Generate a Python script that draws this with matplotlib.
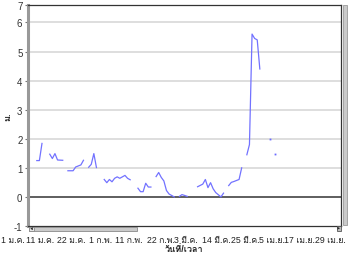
import numpy as np
import matplotlib
matplotlib.use('Agg')
import matplotlib.pyplot as plt
from matplotlib.patches import Rectangle, Polygon
from matplotlib.transforms import ScaledTranslation

plt.rcParams['font.family'] = ['Liberation Sans', 'Loma']

nan = np.nan

# day counted from 1 Jan, nan level = no reading (breaks the line)
day = [3, 4, 5, 6,
       8, 9, 10, 11, 13, 14,
       15, 17, 18, 20, 21, 22,
       23, 24, 25, 26, 27,
       29, 30, 31, 32, 33, 34, 35, 37, 38, 39, 40,
       42, 43, 44, 45, 46, 47, 48,
       49, 50, 51, 52, 53, 54, 55, 56, 57,
       58, 59, 60, 61, 63,
       65, 67, 68, 69, 70, 71, 72, 74, 75, 76,
       77, 78, 79, 81, 82, 83,
       84, 85, 86, 87, 88, 89, 91,
       93, 94,
       95]
level = [1.25, 1.25, 1.84, nan,
         1.47, 1.32, 1.49, 1.27, 1.26, nan,
         0.90, 0.90, 1.03, 1.10, 1.26, nan,
         1.02, 1.12, 1.49, 1.01, nan,
         0.60, 0.49, 0.60, 0.52, 0.64, 0.69, 0.64, 0.74, 0.64, 0.59, nan,
         0.30, 0.18, 0.18, 0.47, 0.34, 0.34, nan,
         0.70, 0.84, 0.67, 0.55, 0.22, 0.10, 0.05, 0.00, nan,
         0.02, 0.08, 0.05, 0.02, nan,
         0.35, 0.44, 0.60, 0.32, 0.49, 0.28, 0.15, 0.00, 0.13, nan,
         0.39, 0.50, 0.53, 0.60, 1.00, nan,
         1.45, 1.80, 5.60, 5.45, 5.40, 4.40, nan,
         2.00, nan,
         1.49]

tick_days = [0, 10, 21, 31, 41, 52, 61, 72, 83, 94, 106, 118]
tick_names = ['1 ม.ค.', '11 ม.ค.', '22 ม.ค.', '1 ก.พ.', '11 ก.พ.', '22 ก.พ.',
              '3 มี.ค.', '14 มี.ค.', '25 มี.ค.', '5 เม.ย.', '17 เม.ย.', '29 เม.ย.']
y_ticks = [-1, 0, 1, 2, 3, 4, 5, 6, 6.6]
y_names = ['-1', '0', '1', '2', '3', '4', '5', '6', '7']

W, H = 350, 255
fig = plt.figure(figsize=(W / 100, H / 100), dpi=100)
ax = fig.add_axes([28 / W, 1 - 227 / H, 313 / W, 221 / H])

d = np.array(day, dtype=float)
v = np.array(level, dtype=float)
ax.plot(d, v, color='#7272ff', lw=0.9, solid_joinstyle='round', zorder=3)
# single readings with no neighbour show as dots
alone = [i for i in range(len(v)) if not np.isnan(v[i])
         and (i == 0 or np.isnan(v[i - 1])) and (i == len(v) - 1 or np.isnan(v[i + 1]))]
ax.plot(d[alone], v[alone], ls='none', marker='s', ms=1.3, mew=0, color='#6a6aff', zorder=3)

ax.set_xlim(-0.39, 120.3)
ax.set_ylim(-1, 6.6)

ax.set_yticks(y_ticks)
ax.set_yticklabels(y_names)
ax.set_xticks(tick_days)
ax.set_xticklabels(tick_names)
ax.tick_params(axis='y', length=2.5, width=0.8, color='#777777', pad=1.5,
               labelsize=7, labelcolor='#333333')
ax.tick_params(axis='x', length=0, pad=6.5, labelsize=6.3, labelcolor='#222222')

# labels squeezed leftwards like in the original widget
nudge = [-16, -15, -12, -9, -7, -3, -1, 1, 1, -1, -4, -5]
for lab, dx in zip(ax.get_xticklabels(), nudge):
    lab.set_transform(lab.get_transform() + ScaledTranslation(dx / 100, 0, fig.dpi_scale_trans))

for yv in [1, 2, 3, 4, 5, 6]:
    ax.axhline(yv, color='#dedede', lw=1.4, zorder=1)
ax.axhline(0, color='#333333', lw=1.1, zorder=2)

ax.spines['left'].set_color('#999999')
ax.spines['left'].set_linewidth(2.2)
for s in ['top', 'right', 'bottom']:
    ax.spines[s].set_color('#333333')
    ax.spines[s].set_linewidth(0.9)

ax.set_ylabel('ม.', fontsize=6.5, fontweight='bold', color='#222222', va='center')
ax.yaxis.set_label_coords(-0.064, 0.5)
ax.set_xlabel('วันที่/เวลา', fontsize=6.5, fontweight='bold', color='#222222', va='center')
ax.xaxis.set_label_coords(0.5, -0.102)


def px_rect(x0, y0, x1, y1, **kw):
    r = Rectangle((x0 / W, 1 - y1 / H), (x1 - x0) / W, (y1 - y0) / H,
                  transform=fig.transFigure, **kw)
    fig.add_artist(r)


def px_tri(pts, **kw):
    p = Polygon([(x / W, 1 - y / H) for x, y in pts], closed=True,
                transform=fig.transFigure, **kw)
    fig.add_artist(p)


# horizontal scrollbar
px_rect(29, 227.5, 137, 232, facecolor='#cacaca', edgecolor='#8a8a8a', lw=0.6)
px_rect(29, 227.5, 34, 232, facecolor='#e6e6e6', edgecolor='#8a8a8a', lw=0.6)
px_tri([(30.3, 229.7), (32.8, 228.3), (32.8, 231.2)], facecolor='#222222', lw=0)
px_rect(336.5, 227, 341, 231.5, facecolor='#bdbdbd', edgecolor='#555555', lw=0.6)
px_tri([(340, 229.2), (337.5, 227.9), (337.5, 230.6)], facecolor='#222222', lw=0)
# vertical scrollbar
px_rect(343, 6, 347, 226, facecolor='#cacaca', edgecolor='#9a9a9a', lw=0.6)

fig.savefig('out.png', dpi=100)
